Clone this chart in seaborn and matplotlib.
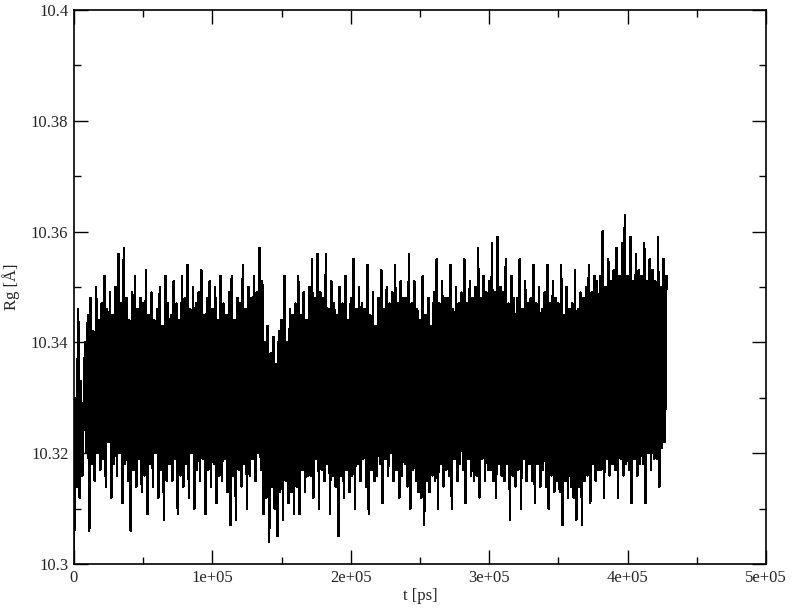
import numpy as np
import pandas as pd
import matplotlib
matplotlib.use("Agg")
import matplotlib.pyplot as plt
from matplotlib.ticker import MultipleLocator, FuncFormatter
import seaborn as sns

# sampling interval of the trajectory [ps]
t_step = 1000

# Rg, in mÅ above 10.3 Å, one value per frame
rg_mA = [
    1, 30, 14, 46, 12, 33, 16, 28, 40, 20,
    45, 6, 48, 18, 42, 15, 50, 20, 44, 17,
    47, 19, 52, 14, 46, 22, 49, 12, 45, 18,
    50, 16, 56, 20, 47, 11, 57, 18, 48, 15,
    44, 6, 49, 17, 52, 14, 46, 19, 48, 13,
    47, 16, 53, 9, 45, 18, 49, 14, 44, 20,
    46, 12, 50, 17, 43, 8, 52, 15, 47, 18,
    45, 15, 51, 19, 47, 9, 44, 16, 52, 14,
    48, 18, 54, 12, 46, 20, 50, 10, 47, 17,
    49, 15, 53, 19, 45, 9, 48, 17, 51, 14,
    46, 18, 50, 11, 44, 16, 52, 15, 47, 19,
    45, 13, 49, 7, 52, 16, 44, 8, 48, 17,
    47, 14, 54, 18, 46, 10, 50, 16, 48, 19,
    52, 15, 49, 20, 57, 17, 51,
    9, 40, 12, 43, 4, 38, 14, 41, 10, 36, 5, 42, 13,
    44, 8, 52, 15, 40, 11, 46, 13, 45, 9,
    47, 14, 52, 9, 45, 17, 49, 13, 44, 16,
    50, 16, 55, 12, 48, 19, 56, 10, 49, 17,
    48, 15, 56, 18, 46, 9, 51, 16, 47, 14,
    45, 5, 50, 16, 47, 12, 52, 17, 44, 13,
    48, 16, 55, 10, 46, 18, 50, 15, 47, 19,
    46, 14, 54, 9, 45, 17, 49, 15, 43, 16,
    48, 18, 53, 11, 46, 19, 50, 16, 47, 20,
    49, 15, 54, 17, 47, 12, 51, 16, 48, 18,
    48, 14, 56, 10, 47, 17, 51, 15, 46, 13,
    44, 12, 52, 7, 45, 15, 48, 13, 43, 16,
    49, 15, 55, 10, 47, 18, 51, 14, 48, 17,
    48, 16, 54, 10, 46, 19, 50, 15, 47, 18,
    49, 17, 55, 11, 47, 19, 51, 16, 48, 15,
    50, 16, 57, 12, 48, 19, 52, 15, 49, 17,
    51, 17, 58, 15, 49, 12, 59, 18, 50, 16,
    49, 15, 55, 18, 47, 8, 52, 16, 48, 14,
    48, 17, 55, 10, 46, 19, 51, 15, 47, 18,
    48, 15, 54, 11, 47, 18, 50, 14, 46, 17,
    49, 14, 54, 10, 47, 16, 51, 13, 48, 15,
    47, 13, 54, 7, 45, 15, 50, 12, 46, 14,
    47, 12, 53, 8, 46, 14, 49, 7, 48, 15,
    50, 16, 54, 11, 49, 18, 52, 15, 51, 17,
    52, 17, 60, 12, 50, 19, 55, 16, 51, 18,
    53, 17, 57, 12, 52, 19, 58, 16, 63, 18,
    52, 17, 59, 11, 51, 19, 56, 16, 53, 18,
    52, 18, 58, 11, 51, 20, 55, 17, 53, 19,
    51, 19, 59, 14, 50, 21, 55, 22, 52,
]

x_ticks = [0, 1e5, 2e5, 3e5, 4e5, 5e5]
y_ticks = [10.3, 10.32, 10.34, 10.36, 10.38, 10.4]

df = pd.DataFrame({
    "t": np.arange(len(rg_mA)) * t_step,
    "rg": 10.3 + np.array(rg_mA) / 1000.0,
})

sns.set_style("ticks")
plt.rcParams["font.family"] = ["Liberation Serif", "DejaVu Serif"]

fig = plt.figure(figsize=(7.92, 6.12), dpi=100)
ax = fig.add_axes([74 / 792, 48 / 612, 692 / 792, 554 / 612])

sns.lineplot(data=df, x="t", y="rg", color="black", linewidth=1.1,
             estimator=None, sort=False, antialiased=False, ax=ax)

ax.set_xlim(x_ticks[0], x_ticks[-1])
ax.set_ylim(y_ticks[0], y_ticks[-1])
ax.set_xticks(x_ticks)
ax.set_yticks(y_ticks)
ax.xaxis.set_minor_locator(MultipleLocator(5e4))
ax.yaxis.set_minor_locator(MultipleLocator(0.01))
ax.xaxis.set_major_formatter(FuncFormatter(lambda v, p: "0" if v == 0 else f"{v:.0e}"))
ax.yaxis.set_major_formatter(FuncFormatter(lambda v, p: f"{v:g}"))

ax.tick_params(which="both", direction="in", top=True, right=True,
               color="black", width=1.0, labelsize=12, pad=4)
ax.tick_params(which="major", length=10)
ax.tick_params(which="minor", length=5)
for s in ax.spines.values():
    s.set_linewidth(1.2)
    s.set_color("black")

ax.set_xlabel("t [ps]", fontsize=12, labelpad=2)
ax.set_ylabel("Rg [Å]", fontsize=12, labelpad=8)

fig.savefig("out.png", dpi=100)
